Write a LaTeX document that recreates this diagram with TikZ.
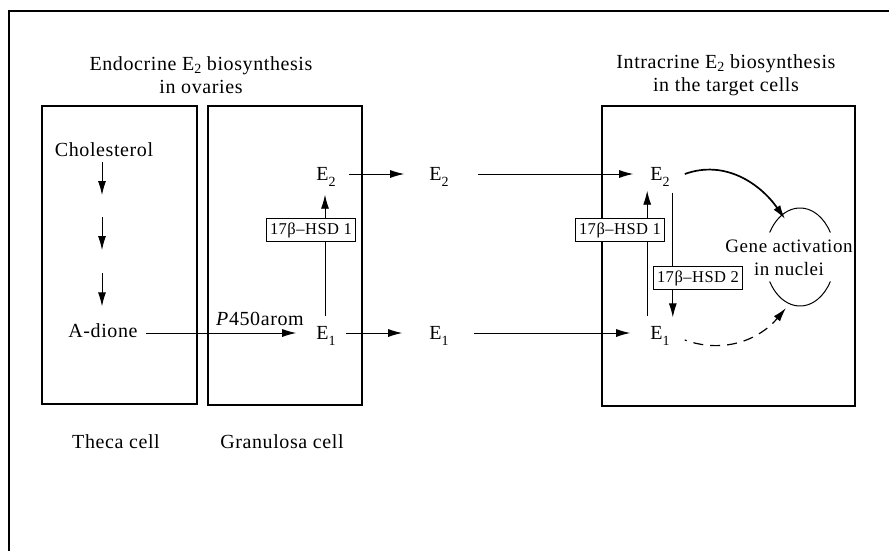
\documentclass[tikz,border=0pt]{standalone}
\usepackage{fontspec}
\setmainfont{Liberation Serif}[LetterSpace=3]
\usetikzlibrary{positioning, arrows.meta, calc}
\newcommand{\lowsub}[2][6pt]{\raisebox{-#1}[0pt][0pt]{\fontsize{14}{14}\selectfont #2}}

\begin{document}
\begin{tikzpicture}[
  x=1pt, y=1pt,
  every node/.style={font=\fontsize{20}{21}\selectfont},
  cellwall/.style={line width=1.8pt},
  hormone/.style={inner sep=0pt, text height=13pt, text depth=0pt},
  enzyme/.style={draw, fill=white, line width=0.8pt, inner xsep=3.5pt,
    inner ysep=0pt, minimum height=23pt, font=\fontsize{16.5}{17}\selectfont},
  flow/.style={-{Latex[length=14pt,width=8pt]}, line width=0.9pt},
]
  \useasboundingbox (0,0) rectangle (889,-551);
  % frame (open to the right and below)
  \draw[line width=1.5pt] (889,-11) -- (9,-11) -- (9,-551);

  % (a) Endocrine side: theca and granulosa cells
  \node[align=center, font=\fontsize{20}{23}\selectfont] (endotitle) at (201,-75)
    {Endocrine E\lowsub[3pt]{2} biosynthesis\\in ovaries};
  \draw[cellwall] (42,-106) rectangle (197,-404);
  \draw[cellwall] (208,-106) rectangle (362,-405);
  \node (thecalbl) at (116,-442) {Theca cell};
  \node (granlbl) at (282,-442) {Granulosa cell};

  % steroid chain in the theca cell
  \node[hormone] (chol) at (104,-150) {Cholesterol};
  \coordinate (int1) at (102,-206);
  \coordinate (int2) at (102,-262);
  \node[hormone] (adione) at (103,-331) {A-dione};
  \draw[flow, shorten <=5pt, shorten >=11pt] (chol.south -| int1) -- (int1);
  \draw[flow, shorten <=11pt, shorten >=12pt] (int1) -- (int2);
  \draw[flow, shorten <=11pt, shorten >=18pt] (int2) -- (int2 |- adione.north);

  % aromatase and 17beta-HSD 1 in the granulosa cell
  \node[hormone] (E2gran) at (326,-174) {E\lowsub{2}};
  \node[hormone] (E1gran) at (326,-333) {E\lowsub{1}};
  \node (arom) at (260,-319) {\textit{P}450arom};
  \draw[flow] ([xshift=8pt]adione.east |- E1gran.west) -- ([xshift=-20pt]E1gran.west);
  \draw[flow] ([xshift=-1pt,yshift=10pt]E1gran.north) -- ([xshift=-1pt,yshift=-14pt]E2gran.south);
  \node[enzyme] (hsdgran) at (311,-230) {17β–HSD 1};

  % secretion into the circulation
  \node[hormone] (E2blood) at (439,-174) {E\lowsub{2}};
  \node[hormone] (E1blood) at (439,-333) {E\lowsub{1}};
  \draw[flow] ([xshift=13pt]E2gran.east) -- ([xshift=-25pt]E2blood.west);
  \draw[flow] ([xshift=10pt]E1gran.east) -- ([xshift=-27pt]E1blood.west);

  % (b) Intracrine side: target cell
  \node[align=center, font=\fontsize{20}{23}\selectfont] (intratitle) at (726,-75)
    {Intracrine E\lowsub[3pt]{2} biosynthesis\\in the target cells};
  \draw[cellwall] (602,-106) rectangle (855,-406);
  \node[hormone] (E2tgt) at (660,-174) {E\lowsub{2}};
  \node[hormone] (E1tgt) at (660,-333) {E\lowsub{1}};
  \draw[flow] ([xshift=29pt]E2blood.east) -- ([xshift=-17pt]E2tgt.west);
  \draw[flow] ([xshift=25pt]E1blood.east) -- ([xshift=-20pt]E1tgt.west);
  \draw[flow] ([xshift=-3pt,yshift=10pt]E1tgt.north west) -- ([xshift=-3pt,yshift=-10pt]E2tgt.south west);
  \draw[flow] ([xshift=3pt,yshift=-12pt]E2tgt.south east) -- ([xshift=3pt,yshift=9pt]E1tgt.north east);
  \node[enzyme] (hsdone) at (620,-230) {17β–HSD 1};
  \node[enzyme] (hsdtwo) at (698,-278) {17β–HSD 2};

  % nucleus
  \coordinate (nucleus) at (800,-257);
  \node[align=center, font=\fontsize{19}{23}\selectfont] (genelbl) at (789,-258)
    {Gene activation\\in nuclei};
  \draw[line width=1pt] ([shift={(150:35 and 49)}]nucleus)
    arc[start angle=150, end angle=30, x radius=35, y radius=49];
  \draw[line width=1pt] ([shift={(210:35 and 49)}]nucleus)
    arc[start angle=210, end angle=330, x radius=35, y radius=49];
  \coordinate (geneup) at (785,-219);
  \coordinate (genedown) at (786,-308);
  \draw[flow, line width=1.7pt] ([xshift=15pt]E2tgt.east) to[out=20, in=125] (geneup);
  \draw[flow, line width=1.2pt, dash pattern=on 2pt off 7pt on 10pt off 7pt on 10pt off 7pt on 10pt off 7pt on 10pt off 7pt on 10pt off 7pt on 30pt]
    ([xshift=15pt,yshift=-7pt]E1tgt.east) to[out=-20, in=-130] (genedown);
\end{tikzpicture}
\end{document}
